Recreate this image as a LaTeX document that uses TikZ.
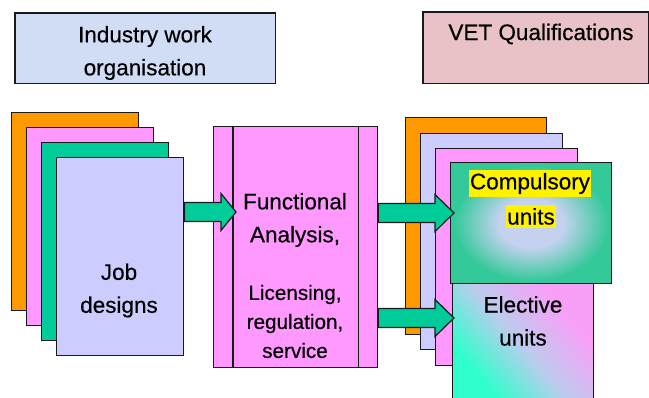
\documentclass[tikz,border=0pt]{standalone}
\usepackage{fontspec}
\setmainfont[FakeBold=0.4]{Liberation Sans}
\usetikzlibrary{calc}
\definecolor{corange}{HTML}{FF9900}
\definecolor{cpink}{HTML}{FF99FF}
\definecolor{cgreen}{HTML}{00CC99}
\definecolor{clav}{HTML}{CCCCFF}
\definecolor{ctl}{HTML}{D0DDF5}
\definecolor{ctr}{HTML}{E8C2C6}
\definecolor{clight}{HTML}{C4D2F0}
\definecolor{cgreenb}{HTML}{33C999}
\definecolor{cborder}{HTML}{1A1A1A}
\definecolor{celmid}{HTML}{BCCCEE}
\definecolor{celR}{HTML}{F8A0F8}
\definecolor{caqua}{HTML}{30FFCC}
\pgfdeclareradialshading{compshade}{\pgfpoint{0bp}{0bp}}{color(0bp)=(clight); color(10bp)=(clight); color(24bp)=(cgreenb); color(100bp)=(cgreenb)}
\pgfdeclarehorizontalshading{eldiag}{100bp}{color(0bp)=(caqua); color(30bp)=(caqua); color(50bp)=(celmid); color(70bp)=(celR); color(100bp)=(celR)}
\newcommand{\blockarrow}[3]{%
  \draw[barrow] let \p1=(#1), \p2=(#2) in
    (\x1,\y1+9.5pt) -- (\x2-#3pt,\y1+9.5pt) -- (\x2-#3pt,\y1+18.5pt) -- (\x2,\y2)
    -- (\x2-#3pt,\y1-18.5pt) -- (\x2-#3pt,\y1-9.5pt) -- (\x1,\y1-9.5pt) -- cycle;}
\begin{document}
\begin{tikzpicture}[x=1pt,y=-1pt,
  card/.style={draw=cborder, line width=1.4pt, anchor=north west, inner sep=0pt},
  titlebox/.style={anchor=north west, inner sep=0pt},
  txt/.style={font=\fontsize{22.5}{33}\selectfont, align=center, inner sep=0pt},
  smalltxt/.style={font=\fontsize{20.7}{29}\selectfont, align=center, inner sep=0pt},
  hl/.style={fill=yellow, inner xsep=1pt, inner ysep=3pt, font=\fontsize{22.5}{33}\selectfont},
  barrow/.style={fill=cgreen, draw=cborder, line width=1.2pt, line join=miter}]
\useasboundingbox (0,0) rectangle (649,398);
\fill[white] (0,0) rectangle (649,398);

% title boxes
\node[titlebox, fill=ctl, minimum width=260, minimum height=70] (tl) at (15,13) {};
\begin{scope}
  \clip (tl.north west) rectangle (tl.south east);
  \node[txt] (tlt) at (145,53) {Industry work\\organisation};
\end{scope}
\draw[line width=1.4pt, draw=cborder] (tl.north west) rectangle (tl.south east);

\node[titlebox, fill=ctr, minimum width=225, minimum height=71] (tr) at (423,12) {};
\draw[line width=1.4pt, draw=cborder] (tr.north west) rectangle (tr.south east);
\node[txt] (trt) at (541,34) {VET Qualifications};

% left stack
\node[card, fill=corange, minimum width=127, minimum height=198] (lo) at (11,112) {};
\node[card, fill=cpink, minimum width=127, minimum height=198] (lp) at (26,127) {};
\node[card, fill=cgreen, minimum width=127, minimum height=198] (lg) at (41,142) {};
\node[card, fill=clav, minimum width=127, minimum height=198] (lv) at (56,157) {};
\node[txt] (jdt) at (119,290.5) {Job\\designs};

% functional analysis box
\node[card, fill=cpink, line width=1.2pt, minimum width=164, minimum height=241] (fa) at (213,126) {};
\draw[line width=1.2pt, draw=cborder] ($(fa.north west)+(20,0)$) -- ($(fa.south west)+(20,0)$);
\draw[line width=1.2pt, draw=cborder] ($(fa.north east)+(-20,0)$) -- ($(fa.south east)+(-20,0)$);
\node[txt] (fat) at (295,220) {Functional\\Analysis,};
\node[smalltxt] (fat2) at (295,321.5) {Licensing,\\regulation,\\service};

% right stack
\node[card, fill=corange, minimum width=141, minimum height=217] (ro) at (405,117) {};
\node[card, fill=clav, minimum width=142, minimum height=216] (rl) at (420,133) {};
\node[card, fill=cpink, minimum width=142, minimum height=217] (rp) at (435,148) {};
\node[card, shading=eldiag, shading angle=40, minimum width=141, minimum height=125] (el) at (452,283) {};
\node[card, shading=compshade, minimum width=161, minimum height=121] (cu) at (450,162) {};
\node[hl] (cut1) at (530,183.5) {Compulsory};
\node[hl] (cut2) at (531,216.5) {units};
\node[txt] (elt) at (523,321) {Elective\\units};

% arrows
\coordinate (a1s) at ($(lv.north east)+(0,55)$);
\coordinate (a1t) at ($(a1s -| fa.west)+(23,0)$);
\blockarrow{a1s}{a1t}{15}
\coordinate (a2s) at ($(fa.north east)+(0,87)$);
\coordinate (a2t) at ($(a2s -| cu.west)+(4,0)$);
\blockarrow{a2s}{a2t}{19}
\coordinate (a3s) at ($(fa.north east)+(0,192)$);
\coordinate (a3t) at ($(a3s -| el.west)+(2,0)$);
\blockarrow{a3s}{a3t}{19}
\end{tikzpicture}
\end{document}
